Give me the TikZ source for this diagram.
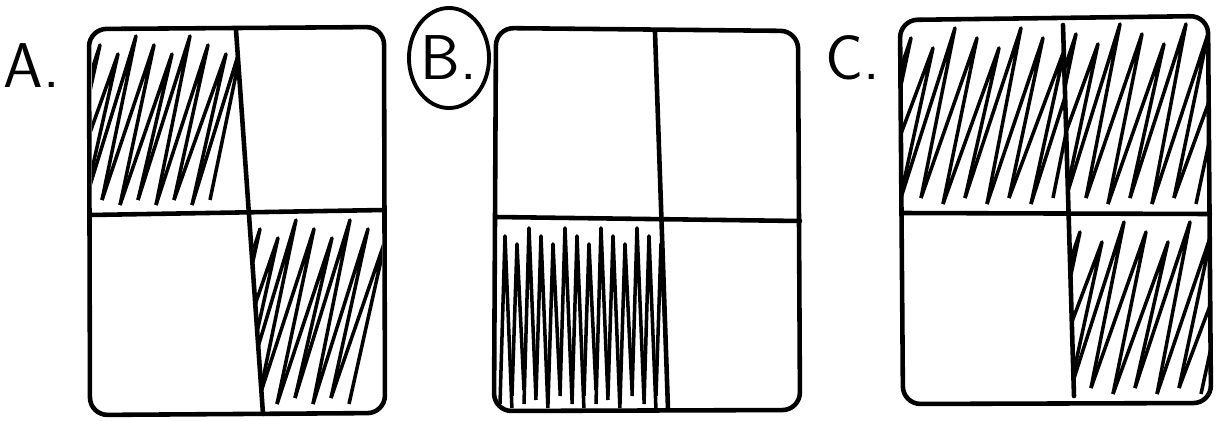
\documentclass[tikz,border=0pt]{standalone}
\usepackage{tikz}

\begin{document}
\begin{tikzpicture}[x=0.01cm, y=-0.01cm,
    box/.style={line width=1.3pt, rounded corners=5pt, line join=round},
    divider/.style={line width=1.3pt, line cap=round},
    hatch/.style={line width=1pt, line join=round},
    lbl/.style={font=\fontsize{18}{20}\selectfont\sffamily, inner sep=0pt}]
    \useasboundingbox (0,0) rectangle (1217,421);

    % labels
    \node[lbl] (labA) at (32,66) {A.};
    \node[lbl] (labB) at (449,58) {B.};
    \draw[line width=1.1pt] (labB.center) ellipse [x radius=0.4cm, y radius=0.5cm];
    \node[lbl] (labC) at (853,58) {C.};

    % box A
    \draw[box] (89,29) -- (384,27) -- (385,413) -- (90,415) -- cycle;
    \draw[divider] (236,30) -- (263,414);
    \draw[divider] (90,215) -- (384,210);
    \begin{scope}
        \clip (92,31) -- (235,31) -- (247,212) -- (92,214) -- cycle;
        \foreach \b [count=\i] in {48,66,...,195}
            \draw[hatch] (\b,{200+5*mod(\i,2)}) -- ({\b+52},{36+9*mod(\i,3)}) -- ({\b+18},{200+5*mod(\i+1,2)});
    \end{scope}
    \begin{scope}
        \clip (251,213) -- (382,211) -- (382,411) -- (264,412) -- cycle;
        \foreach \b [count=\i] in {205,223,...,340}
            \draw[hatch] (\b,{398+6*mod(\i,2)}) -- ({\b+55},{220+9*mod(\i,3)}) -- ({\b+18},{398+6*mod(\i+1,2)});
    \end{scope}

    % box B
    \draw[box] (496,28) -- (798,31) -- (800,410) -- (494,411) -- cycle;
    \draw[divider] (655,32) -- (668,409);
    \draw[divider] (496,217) -- (800,221);
    \begin{scope}
        \clip (498,219) -- (662,219) -- (667,408) -- (497,408) -- cycle;
        \foreach \b [count=\i] in {500,512,...,660}
            \draw[hatch] (\b,{396+8*mod(\i,2)}) -- ({\b+5},{228+8*mod(\i,3)}) -- ({\b+12},{390+10*mod(\i+1,3)});
    \end{scope}

    % box C
    \draw[box] (900,20) -- (1208,16) -- (1211,403) -- (903,404) -- cycle;
    \draw[divider] (1063,25) -- (1074,396);
    \draw[divider] (902,213) -- (1210,214);
    \begin{scope}
        \clip (902,22) -- (1063,22) -- (1069,211) -- (902,211) -- cycle;
        \foreach \b [count=\i] in {855,877,...,1040}
            \draw[hatch] (\b,{198+6*mod(\i,2)}) -- ({\b+56},{28+10*mod(\i,3)}) -- ({\b+22},{198+6*mod(\i+1,2)});
    \end{scope}
    \begin{scope}
        \clip (1065,20) -- (1207,18) -- (1208,211) -- (1070,211) -- cycle;
        \foreach \b [count=\i] in {1020,1042,...,1190}
            \draw[hatch] (\b,{198+6*mod(\i,2)}) -- ({\b+56},{24+10*mod(\i,3)}) -- ({\b+22},{198+6*mod(\i+1,2)});
    \end{scope}
    \begin{scope}
        \clip (1070,216) -- (1209,216) -- (1210,400) -- (1074,400) -- cycle;
        \foreach \b [count=\i] in {1025,1047,...,1195}
            \draw[hatch] (\b,{388+6*mod(\i,2)}) -- ({\b+55},{222+10*mod(\i,3)}) -- ({\b+22},{388+6*mod(\i+1,2)});
    \end{scope}
\end{tikzpicture}
\end{document}
